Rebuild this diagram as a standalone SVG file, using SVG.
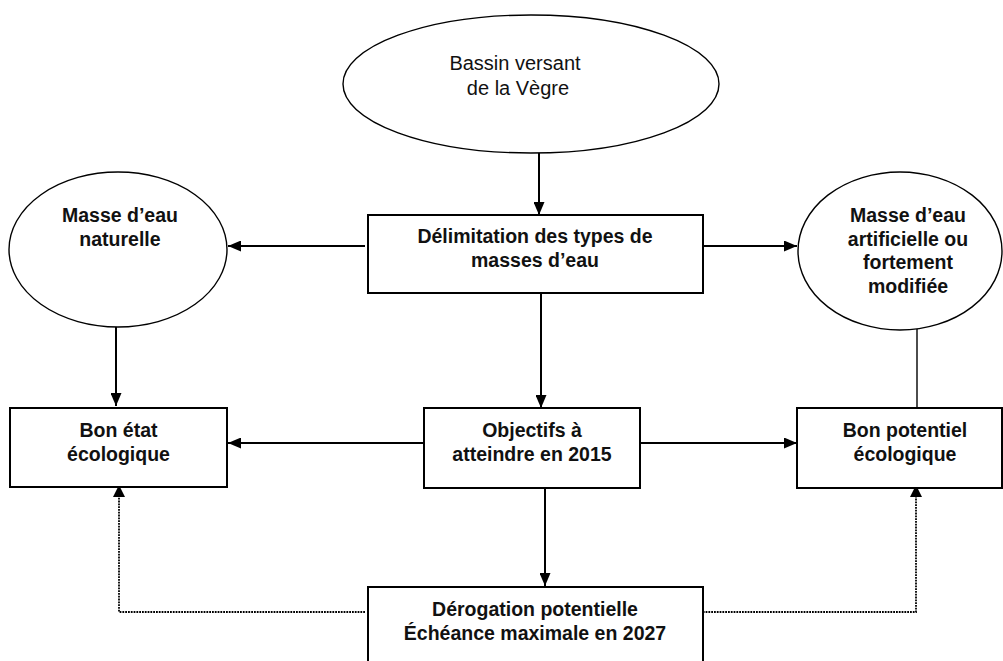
<svg xmlns="http://www.w3.org/2000/svg" width="1003" height="661" viewBox="0 0 1003 661">
<style>
.bg{fill:#fff}
.box{fill:#fff;stroke:#000;stroke-width:2}
.ell{fill:#fff;stroke:#000;stroke-width:1.4}
.t{font-family:"Liberation Sans",Arial,sans-serif;font-size:19.5px;font-weight:bold;fill:#111;text-anchor:middle}
.r{font-family:"Liberation Sans",Arial,sans-serif;font-size:20px;fill:#111;text-anchor:middle}
.c{stroke:#000;stroke-width:2;fill:none}
.thin{stroke:#000;stroke-width:1.4;fill:none}
.dot{stroke:#000;stroke-width:1.8;fill:none;stroke-dasharray:1.8 1}
</style>
<defs>
<marker id="ah" markerWidth="13" markerHeight="11" refX="13" refY="5.5" orient="auto" markerUnits="userSpaceOnUse">
<path d="M0,0 L13,5.5 L0,11 Z" fill="#000"/>
</marker>
</defs>
<rect class="bg" x="0" y="0" width="1003" height="661"/>

<g id="connectors">
<line class="c" x1="539" y1="153" x2="539" y2="215" marker-end="url(#ah)"/>
<line class="c" x1="365" y1="246" x2="228" y2="246" marker-end="url(#ah)"/>
<line class="c" x1="698" y1="246" x2="797" y2="246" marker-end="url(#ah)"/>
<line class="c" x1="541" y1="293" x2="541" y2="408" marker-end="url(#ah)"/>
<line class="c" x1="116" y1="327" x2="116" y2="406" marker-end="url(#ah)"/>
<line class="thin" x1="917" y1="329" x2="917" y2="407"/>
<line class="c" x1="424" y1="443" x2="228" y2="443" marker-end="url(#ah)"/>
<line class="c" x1="640" y1="443" x2="797" y2="443" marker-end="url(#ah)"/>
<line class="c" x1="545" y1="488" x2="545" y2="586" marker-end="url(#ah)"/>
<path class="dot" d="M365,612 H119 V497"/>
<path d="M113,497 L119,485 L125,497 Z" fill="#000"/>
<path class="dot" d="M700,612 H916 V497"/>
<path d="M910,497 L916,485 L922,497 Z" fill="#000"/>
</g>

<g id="bassin">
<ellipse class="ell" cx="531" cy="84" rx="188" ry="69"/>
<text class="r" x="515" y="70">Bassin versant</text>
<text class="r" x="518" y="95">de la Vègre</text>
</g>

<g id="delimitation">
<rect class="box" x="368" y="215" width="335" height="78"/>
<text class="t" x="535" y="243">Délimitation des types de</text>
<text class="t" x="535" y="267">masses d’eau</text>
</g>

<g id="naturelle">
<ellipse class="ell" cx="118" cy="249.5" rx="109" ry="77.5"/>
<text class="t" x="120" y="222">Masse d’eau</text>
<text class="t" x="120" y="246">naturelle</text>
</g>

<g id="artificielle">
<ellipse class="ell" cx="900" cy="251" rx="102" ry="79"/>
<text class="t" x="908" y="222">Masse d’eau</text>
<text class="t" x="908" y="246">artificielle ou</text>
<text class="t" x="908" y="269">fortement</text>
<text class="t" x="908" y="293">modifiée</text>
</g>

<g id="bon-etat">
<rect class="box" x="10" y="408" width="217" height="79"/>
<text class="t" x="118.5" y="437">Bon état</text>
<text class="t" x="118.5" y="461">écologique</text>
</g>

<g id="objectifs">
<rect class="box" x="424" y="408" width="216" height="80"/>
<text class="t" x="532" y="437">Objectifs à</text>
<text class="t" x="532" y="461">atteindre en 2015</text>
</g>

<g id="bon-potentiel">
<rect class="box" x="797" y="408" width="205" height="80"/>
<text class="t" x="905" y="437">Bon potentiel</text>
<text class="t" x="905" y="461">écologique</text>
</g>

<g id="derogation">
<rect class="box" x="368" y="587" width="335" height="90"/>
<text class="t" x="535" y="616">Dérogation potentielle</text>
<text class="t" x="535" y="640">Échéance maximale en 2027</text>
</g>
</svg>
